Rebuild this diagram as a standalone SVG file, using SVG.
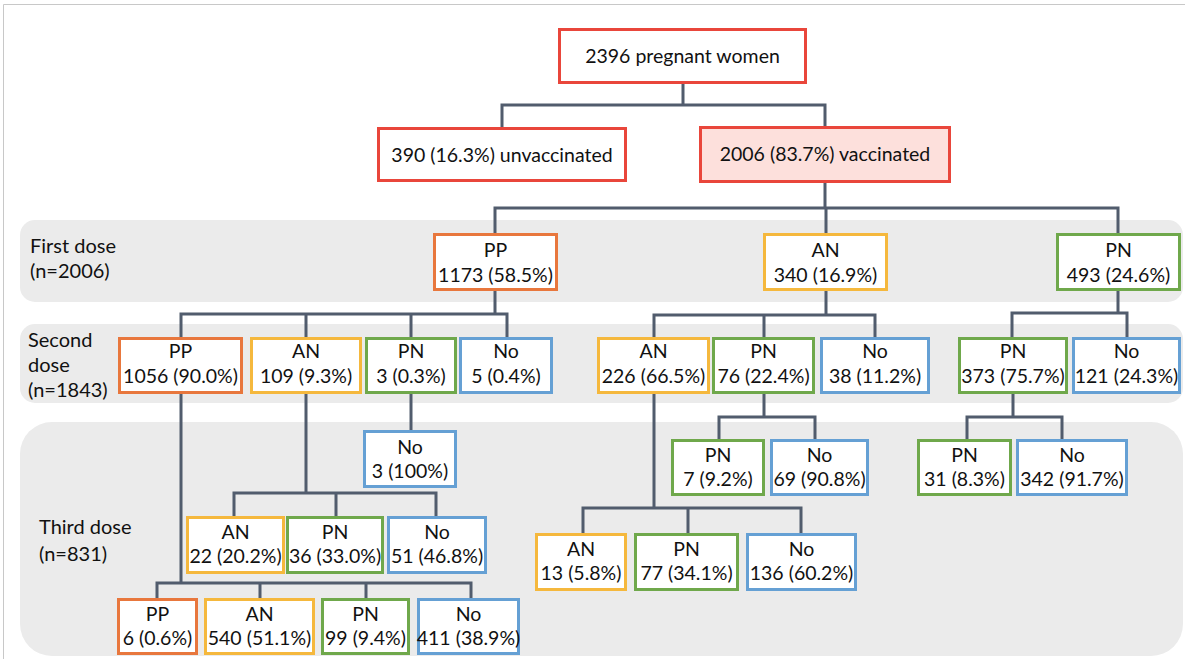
<svg xmlns="http://www.w3.org/2000/svg" width="1185" height="659" viewBox="0 0 1185 659">
<style>
text{font-family:Lato,"Liberation Sans",sans-serif;font-size:19.5px;fill:#111}
.lab{font-size:20px}
.c{text-anchor:middle}
.band{fill:#ebebeb}
.box{fill:#fff;stroke-width:3}
.red{stroke:#e9463b}
.pp{stroke:#e8773d}
.an{stroke:#f5b83d}
.pn{stroke:#6fa84b}
.no{stroke:#65a0d4}
.con{fill:none;stroke:#515c6d;stroke-width:3}
</style>
<rect x="0" y="0" width="1185" height="659" fill="#fff"/>
<path d="M3.5,659 V4.5 H1185" fill="none" stroke="#c8c8c8" stroke-width="1"/>
<g id="bands">
<rect class="band" x="20" y="220" width="1163" height="82" rx="15"/>
<rect class="band" x="20" y="324" width="1163" height="79" rx="15"/>
<rect class="band" x="20" y="422" width="1163" height="234" rx="32"/>
</g>
<g id="labels">
<text class="lab" x="30" y="253">First dose</text>
<text class="lab" x="30" y="278">(n=2006)</text>
<text class="lab" x="28" y="347">Second</text>
<text class="lab" x="28" y="372">dose</text>
<text class="lab" x="28" y="397">(n=1843)</text>
<text class="lab" x="39" y="534">Third dose</text>
<text class="lab" x="39" y="561">(n=831)</text>
</g>
<g id="connectors">
<path class="con" d="M683,84 V105 M502,127 V105 H825 V126"/>
<path class="con" d="M825,183 V208 M495,233 V208 H1118 V233 M826,208 V233"/>
<path class="con" d="M495,291 V314 M181,337 V314 H507 V337 M306,314 V337 M411,314 V337"/>
<path class="con" d="M826,291 V315 M654,337 V315 H875 V337 M764,315 V337"/>
<path class="con" d="M1118,291 V313 M1012,337 V313 H1127 V337"/>
<path class="con" d="M181,394 V583 M157,598 V583 H471 V598 M260,583 V598 M366,583 V598"/>
<path class="con" d="M306,394 V493 M234,516 V493 H436 V516 M336,493 V516"/>
<path class="con" d="M411,394 V430"/>
<path class="con" d="M654,394 V508 M583,533 V508 H801 V533 M688,508 V533"/>
<path class="con" d="M764,394 V417 M719,439 V417 H815 V439"/>
<path class="con" d="M1013,394 V417 M967,439 V417 H1062 V439"/>
</g>
<g id="root"><rect class="box red" x="559.5" y="29.5" width="246" height="53"/><text class="c" x="682.5" y="63">2396 pregnant women</text></g>
<g id="unvaccinated"><rect class="box red" x="378.5" y="128.5" width="247" height="52"/><text class="c" x="502" y="162">390 (16.3%) unvaccinated</text></g>
<g id="vaccinated"><rect class="box red" x="700.5" y="127.5" width="249" height="54" style="fill:#fde0dc"/><text class="c" x="825" y="161">2006 (83.7%) vaccinated</text></g>

<g id="d1-pp"><rect class="box pp" x="434.5" y="234.5" width="122" height="55"/><text class="c" x="495.5" y="257">PP</text><text class="c" x="495.5" y="282">1173 (58.5%)</text></g>
<g id="d1-an"><rect class="box an" x="764.5" y="234.5" width="122" height="55"/><text class="c" x="825.5" y="257">AN</text><text class="c" x="825.5" y="282">340 (16.9%)</text></g>
<g id="d1-pn"><rect class="box pn" x="1057.5" y="234.5" width="122" height="55"/><text class="c" x="1118.5" y="257">PN</text><text class="c" x="1118.5" y="282">493 (24.6%)</text></g>

<g id="d2-pp"><rect class="box pp" x="119.5" y="338.5" width="122" height="54"/><text class="c" x="180.5" y="358">PP</text><text class="c" x="180.5" y="383">1056 (90.0%)</text></g>
<g id="d2-an"><rect class="box an" x="251.5" y="338.5" width="109" height="54"/><text class="c" x="306" y="358">AN</text><text class="c" x="306" y="383">109 (9.3%)</text></g>
<g id="d2-pn"><rect class="box pn" x="366.5" y="338.5" width="89" height="54"/><text class="c" x="411" y="358">PN</text><text class="c" x="411" y="383">3 (0.3%)</text></g>
<g id="d2-no"><rect class="box no" x="460.5" y="338.5" width="91" height="54"/><text class="c" x="506" y="358">No</text><text class="c" x="506" y="383">5 (0.4%)</text></g>
<g id="d2-an2"><rect class="box an" x="598.5" y="338.5" width="110" height="54"/><text class="c" x="653.5" y="358">AN</text><text class="c" x="653.5" y="383">226 (66.5%)</text></g>
<g id="d2-pn2"><rect class="box pn" x="713.5" y="338.5" width="100" height="54"/><text class="c" x="763.5" y="358">PN</text><text class="c" x="763.5" y="383">76 (22.4%)</text></g>
<g id="d2-no2"><rect class="box no" x="821.5" y="338.5" width="107" height="54"/><text class="c" x="875" y="358">No</text><text class="c" x="875" y="383">38 (11.2%)</text></g>
<g id="d2-pn3"><rect class="box pn" x="959.5" y="338.5" width="107" height="54"/><text class="c" x="1013" y="358">PN</text><text class="c" x="1013" y="383">373 (75.7%)</text></g>
<g id="d2-no3"><rect class="box no" x="1073.5" y="338.5" width="106" height="54"/><text class="c" x="1126.5" y="358">No</text><text class="c" x="1126.5" y="383">121 (24.3%)</text></g>

<g id="d3-no-a"><rect class="box no" x="364.5" y="431.5" width="91" height="55"/><text class="c" x="410" y="454">No</text><text class="c" x="410" y="478">3 (100%)</text></g>
<g id="d3-an-b"><rect class="box an" x="187.5" y="517.5" width="96" height="55"/><text class="c" x="235.5" y="539">AN</text><text class="c" x="235.5" y="563">22 (20.2%)</text></g>
<g id="d3-pn-b"><rect class="box pn" x="287.5" y="517.5" width="95" height="55"/><text class="c" x="335" y="539">PN</text><text class="c" x="335" y="563">36 (33.0%)</text></g>
<g id="d3-no-b"><rect class="box no" x="388.5" y="517.5" width="97" height="55"/><text class="c" x="437" y="539">No</text><text class="c" x="437" y="563">51 (46.8%)</text></g>
<g id="d3-pp-c"><rect class="box pp" x="118.5" y="599.5" width="78" height="54"/><text class="c" x="157.5" y="621">PP</text><text class="c" x="157.5" y="645">6 (0.6%)</text></g>
<g id="d3-an-c"><rect class="box an" x="205.5" y="599.5" width="108" height="54"/><text class="c" x="259.5" y="621">AN</text><text class="c" x="259.5" y="645">540 (51.1%)</text></g>
<g id="d3-pn-c"><rect class="box pn" x="322.5" y="599.5" width="86" height="54"/><text class="c" x="365.5" y="621">PN</text><text class="c" x="365.5" y="645">99 (9.4%)</text></g>
<g id="d3-no-c"><rect class="box no" x="418.5" y="599.5" width="100" height="54"/><text class="c" x="468.5" y="621">No</text><text class="c" x="468.5" y="645">411 (38.9%)</text></g>
<g id="d3-pn-d"><rect class="box pn" x="672.5" y="440.5" width="91" height="54"/><text class="c" x="718" y="462">PN</text><text class="c" x="718" y="486">7 (9.2%)</text></g>
<g id="d3-no-d"><rect class="box no" x="771.5" y="440.5" width="96" height="54"/><text class="c" x="819.5" y="462">No</text><text class="c" x="819.5" y="486">69 (90.8%)</text></g>
<g id="d3-pn-e"><rect class="box pn" x="918.5" y="440.5" width="92" height="54"/><text class="c" x="964.5" y="462">PN</text><text class="c" x="964.5" y="486">31 (8.3%)</text></g>
<g id="d3-no-e"><rect class="box no" x="1017.5" y="440.5" width="109" height="54"/><text class="c" x="1072" y="462">No</text><text class="c" x="1072" y="486">342 (91.7%)</text></g>
<g id="d3-an-f"><rect class="box an" x="536.5" y="534.5" width="89" height="55"/><text class="c" x="581" y="556">AN</text><text class="c" x="581" y="580">13 (5.8%)</text></g>
<g id="d3-pn-f"><rect class="box pn" x="635.5" y="534.5" width="102" height="55"/><text class="c" x="686.5" y="556">PN</text><text class="c" x="686.5" y="580">77 (34.1%)</text></g>
<g id="d3-no-f"><rect class="box no" x="747.5" y="534.5" width="108" height="55"/><text class="c" x="801.5" y="556">No</text><text class="c" x="801.5" y="580">136 (60.2%)</text></g>
</svg>
